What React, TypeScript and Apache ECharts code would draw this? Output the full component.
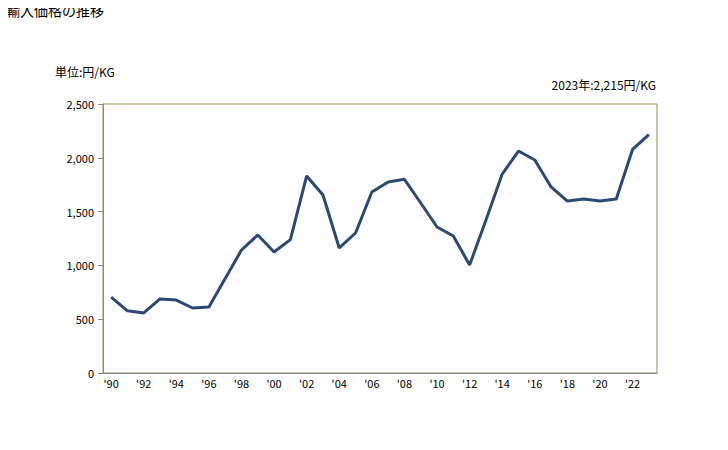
import React, { useEffect, useRef } from "react";
import * as echarts from "echarts";

const years = [
  "'90", "'91", "'92", "'93", "'94", "'95", "'96", "'97", "'98", "'99",
  "'00", "'01", "'02", "'03", "'04", "'05", "'06", "'07", "'08", "'09",
  "'10", "'11", "'12", "'13", "'14", "'15", "'16", "'17", "'18", "'19",
  "'20", "'21", "'22", "'23",
];
const prices = [
  706, 578, 558, 688, 678, 604, 613, 878, 1143, 1283,
  1125, 1240, 1831, 1654, 1162, 1301, 1682, 1775, 1800, 1580,
  1357, 1273, 1004, 1420, 1849, 2063, 1980, 1729, 1598, 1617,
  1598, 1617, 2078, 2215,
];
const yTicks = { min: 0, max: 2500, interval: 500 };
const titleText = "輸入価格の推移";
const unitText = "単位:円/KG";
const noteText = "2023年:2,215円/KG";

const FONT = "'Noto Sans CJK JP', 'Liberation Sans', sans-serif";

export default function App() {
  const ref = useRef<HTMLDivElement>(null);
  useEffect(() => {
    if (!ref.current) return;
    const chart = echarts.init(ref.current, undefined, { renderer: "svg" });
    chart.setOption({
      animation: false,
      backgroundColor: "#ffffff",
      graphic: [
        { type: "text", left: 6, top: 3, style: { text: titleText, font: `14px ${FONT}`, fill: "#000" } },
        { type: "text", left: 55, top: 65, style: { text: unitText, font: `12px ${FONT}`, fill: "#000" } },
        { type: "text", right: 72, top: 78, style: { text: noteText, font: `12px ${FONT}`, fill: "#000" } },
      ],
      grid: {
        left: 103,
        right: 71,
        top: 104,
        bottom: 77,
        show: true,
        borderColor: "#9c8c4c",
        borderWidth: 1,
        backgroundColor: "transparent",
      },
      xAxis: {
        type: "category",
        data: years,
        boundaryGap: true,
        axisLine: { show: true, lineStyle: { color: "#888888", width: 1 } },
        axisTick: { show: false },
        axisLabel: {
          interval: 1,
          color: "#000",
          fontSize: 11,
          fontFamily: FONT,
          margin: 4,
        },
        splitLine: { show: false },
      },
      yAxis: {
        type: "value",
        min: yTicks.min,
        max: yTicks.max,
        interval: yTicks.interval,
        axisLine: { show: true, lineStyle: { color: "#888888", width: 1 } },
        axisTick: { show: true, length: 5, lineStyle: { color: "#888888" } },
        axisLabel: {
          color: "#000",
          fontSize: 11,
          fontFamily: FONT,
          margin: 9,
          formatter: (v: number) => v.toLocaleString("en-US"),
        },
        splitLine: { show: false },
      },
      series: [
        {
          type: "line",
          data: prices,
          symbol: "none",
          lineStyle: { color: "#2a4a74", width: 3 },
          itemStyle: { color: "#2a4a74" },
        },
      ],
    });
    return () => chart.dispose();
  }, []);
  return <div ref={ref} style={{ width: 728, height: 450, margin: -8 }} />;
}
